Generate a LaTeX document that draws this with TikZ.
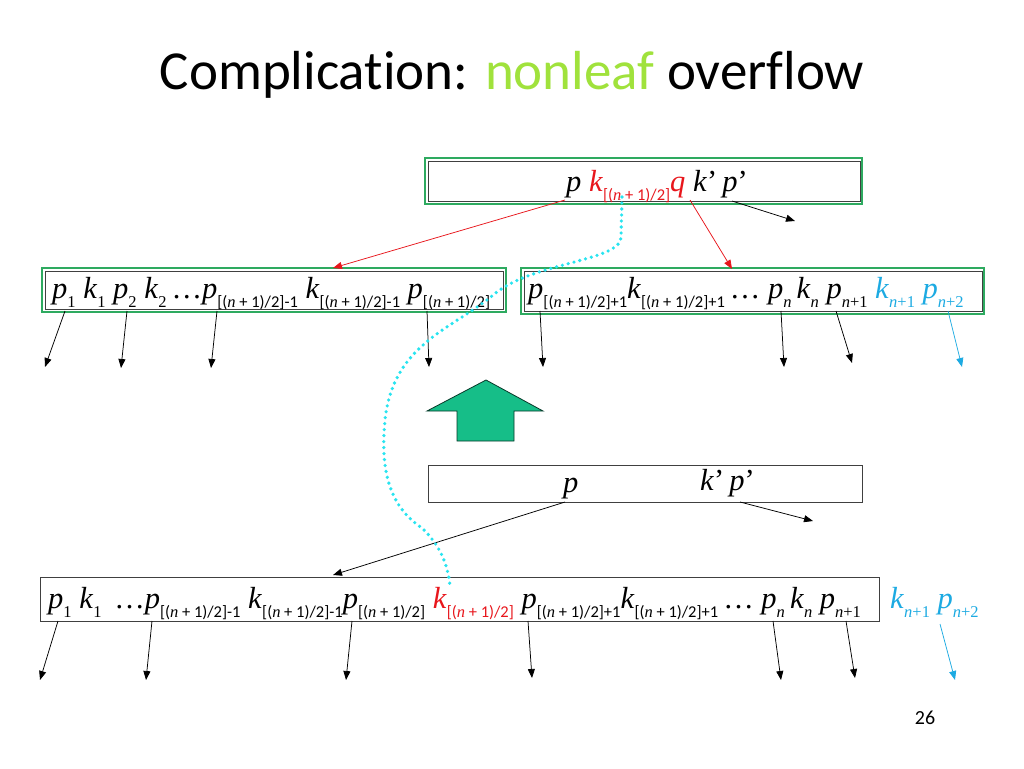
\documentclass[tikz,border=0pt]{standalone}
\usepackage{fontspec}
\setmainfont{Liberation Serif}
\newfontfamily\carl{Carlito}
\newfontfamily\carlt[Ligatures=NoCommon]{Carlito}
\usetikzlibrary{arrows.meta}
\definecolor{kred}{RGB}{232,22,28}
\definecolor{kcyan}{RGB}{40,228,240}
\definecolor{kblue}{RGB}{28,170,226}
\definecolor{kgreen}{RGB}{46,170,96}
\definecolor{tgreen}{RGB}{160,226,60}
\definecolor{afill}{RGB}{22,190,136}
\newcommand\subx[1]{\raisebox{-0.3em}{\fontsize{16.5}{17}\selectfont #1}}
\newcommand\hhx{\carl[({\rmfamily\itshape n} + 1)/2]}
\newcommand\vpx{\textit{p}}
\newcommand\vkx{\textit{k}}
\newcommand\vqx{\textit{q}}
\newcommand\nnx{{\itshape n}}
\begin{document}
\begin{tikzpicture}[x=1pt,y=-1pt,
  ptr/.style={-{Triangle[length=9pt,width=7pt]},line width=0.75pt},
  keytext/.style={anchor=base west,inner sep=0pt,font=\fontsize{30.5}{30}\selectfont},
  gbox/.style={draw=kgreen,line width=1.2pt},
  ibox/.style={draw=black!75,line width=1pt}]
\useasboundingbox (0,0) rectangle (1024,768);
\fill[white] (0,0) rectangle (1024,768);
% title
\node[font=\carlt\fontsize{55}{55}\selectfont,anchor=base] (title) at (512,89) {Complication: \textcolor{tgreen}{nonleaf} overflow};
% top node
\draw[gbox] (425,158) rectangle (862,204);
\draw[ibox] (428,161) rectangle (860,201);
\node[keytext] (toptext) at (566,191) {\vpx\ \textcolor{kred}{\vkx\subx{\hhx}\vqx}\ \vkx’\,\vpx’};
% middle left
\draw[gbox] (42,268) rectangle (506,312);
\draw[ibox] (45,271) rectangle (503,309);
\node[keytext] (midl) at (52,298) {\vpx\subx{1} \vkx\subx{1} \vpx\subx{2} \vkx\subx{2}\,…\vpx\subx{\hhx\carl-1} \vkx\subx{\hhx\carl-1} \vpx\subx{\hhx}};
% middle right
\draw[gbox] (521,268) rectangle (984,314);
\draw[ibox] (524,271) rectangle (982,311);
\node[keytext] (midr) at (528,298) {\vpx\subx{\hhx\carl+1}\vkx\subx{\hhx\carl+1}\,…\ \vpx\subx{\nnx}\,\vkx\subx{\nnx} \vpx\subx{\nnx+1} \textcolor{kblue}{\vkx\subx{\nnx+1} \vpx\subx{\nnx+2}}};
% arrows top
\coordinate (t1) at (565,200); \coordinate (t2) at (690,200); \coordinate (t3) at (732,201);
\coordinate (ml) at (333,268); \coordinate (mr) at (732,269); \coordinate (te) at (795,221);
\draw[ptr,kred] (t1) -- (ml);
\draw[ptr,kred] (t2) -- (mr);
\draw[ptr] (t3) -- (te);
% arrows from middle nodes
\foreach \a/\b/\c/\d in {65/311/45/367,127/311/121/368,217/311/211/368,427/311/429/367,540/311/543/367,781/311/784/367,836/311/852/363}{
  \coordinate (s) at (\a,\b); \coordinate (e) at (\c,\d);
  \draw[ptr] (s) -- (e);}
\coordinate (cs) at (948,311); \coordinate (ce) at (962,367);
\draw[ptr,kblue] (cs) -- (ce);
% up arrow
\draw[fill=afill,draw=black!70!afill,line width=0.8pt] (486,380) -- (543,411) -- (514,411) -- (514,441) -- (457,441) -- (457,411) -- (427,411) -- cycle;
% lower parent
\draw[ibox] (428,465) rectangle (862,502);
\node[keytext] (lowtext) at (563,492) {\vpx};
\node[keytext] (lowtext2) at (700,490) {\vkx’\,\vpx’};
\coordinate (l1) at (565,502); \coordinate (l2) at (740,502);
\coordinate (b1) at (333,575); \coordinate (b2) at (813,521);
\draw[ptr] (l1) -- (b1);
\draw[ptr] (l2) -- (b2);
% bottom node
\draw[ibox] (40,577) rectangle (879,621);
\node[keytext] (bot) at (48,608) {\vpx\subx{1} \vkx\subx{1} \,…\vpx\subx{\hhx\carl-1} \vkx\subx{\hhx\carl-1}\vpx\subx{\hhx} \textcolor{kred}{\vkx\subx{\hhx}} \vpx\subx{\hhx\carl+1}\vkx\subx{\hhx\carl+1}\,…\ \vpx\subx{\nnx}\,\vkx\subx{\nnx} \vpx\subx{\nnx+1}};
\node[keytext,text=kblue] (botx) at (890,608) {\vkx\subx{\nnx+1} \vpx\subx{\nnx+2}};
\foreach \a/\b/\c/\d in {58/621/40/680,152/621/146/680,352/621/346/680,528/621/532/678,773/621/781/680,846/621/855/678}{
  \coordinate (s) at (\a,\b); \coordinate (e) at (\c,\d);
  \draw[ptr] (s) -- (e);}
\coordinate (cs2) at (940,624); \coordinate (ce2) at (955,680);
\draw[ptr,kblue] (cs2) -- (ce2);
% cyan dotted path
\coordinate (d0) at (622,197); \coordinate (d1) at (450,586);
\draw[kcyan,line width=3.6pt,dash pattern=on 0pt off 6pt,line cap=round]
  (d0) -- (621,238) .. controls (618,262) and (530,262) .. (492,296)
  .. controls (450,330) and (393,345) .. (385,420)
  .. controls (379,480) and (395,510) .. (422,528)
  .. controls (440,545) and (448,565) .. (d1);
% page number
\node[font=\carl\fontsize{20}{20}\selectfont] (pg) at (925,718) {26};
\end{tikzpicture}
\end{document}
